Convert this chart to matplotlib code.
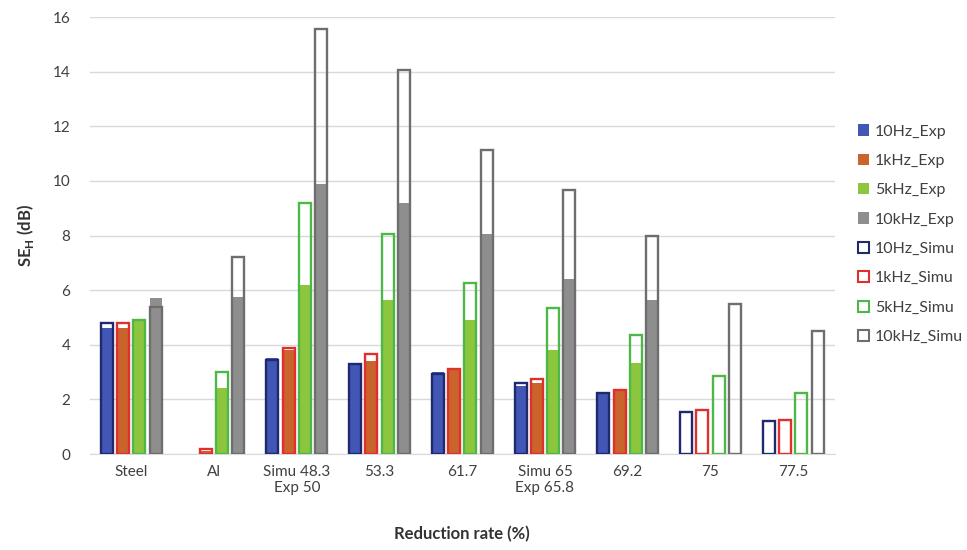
import matplotlib
matplotlib.use("Agg")
import matplotlib.pyplot as plt
import numpy as np
from matplotlib.patches import Patch

plt.rcParams['font.family'] = ['Lato', 'DejaVu Sans']

nan = float('nan')
categories = ["Steel", "Al", "Simu 48.3\nExp 50", "53.3", "61.7", "Simu 65\nExp 65.8", "69.2", "75", "77.5"]

exp_10hz  = [4.62, nan, 3.50, 3.25, 3.00, 2.50, 2.25, nan, nan]
exp_1khz  = [4.62, 0.12, 3.80, 3.40, 3.10, 2.60, 2.35, nan, nan]
exp_5khz  = [4.92, 2.40, 6.20, 5.65, 4.90, 3.80, 3.35, nan, nan]
exp_10khz = [5.70, 5.75, 9.90, 9.20, 8.05, 6.40, 5.65, nan, nan]

simu_10hz  = [4.78, nan, 3.45, 3.30, 2.92, 2.60, 2.22, 1.55, 1.20]
simu_1khz  = [4.78, 0.18, 3.90, 3.65, 3.10, 2.75, 2.33, 1.60, 1.25]
simu_5khz  = [4.90, 3.02, 9.20, 8.05, 6.25, 5.35, 4.35, 2.85, 2.25]
simu_10khz = [5.40, 7.22, 15.55, 14.05, 11.15, 9.65, 8.00, 5.50, 4.50]

exp_series = [exp_10hz, exp_1khz, exp_5khz, exp_10khz]
simu_series = [simu_10hz, simu_1khz, simu_5khz, simu_10khz]
exp_labels = ["10Hz_Exp", "1kHz_Exp", "5kHz_Exp", "10kHz_Exp"]
simu_labels = ["10Hz_Simu", "1kHz_Simu", "5kHz_Simu", "10kHz_Simu"]
exp_colors = ["#4256B6", "#C9642C", "#8CC63F", "#8E8E8E"]
simu_colors = ["#1F2A6E", "#E0302E", "#4DB848", "#6E6E6E"]

fig = plt.figure(figsize=(9.67, 5.5), dpi=100)
ax = fig.add_axes([0.093, 0.1745, 0.77, 0.7945])

x = np.arange(len(categories))
w = 0.145
offsets = [-0.295, -0.098, 0.098, 0.295]

for i in range(4):
    ax.bar(x + offsets[i], exp_series[i], width=w, color=exp_colors[i], zorder=2,
           linewidth=0)
    ax.bar(x + offsets[i], simu_series[i], width=w, facecolor='none',
           edgecolor=simu_colors[i], linewidth=1.7, zorder=3)

ax.set_ylim(0, 16)
ax.set_xlim(-0.5, len(categories) - 0.5)
ax.set_yticks(np.arange(0, 17, 2))
ax.yaxis.grid(True, color="#D9D9D9", linewidth=1)
ax.set_axisbelow(True)
for s in ["top", "right", "left"]:
    ax.spines[s].set_visible(False)
ax.spines["bottom"].set_color("#D9D9D9")
ax.tick_params(axis='y', length=0, labelsize=11, colors="#404040", pad=14)
ax.tick_params(axis='x', length=0, labelsize=11, colors="#404040", pad=8)
ax.set_xticks(x)
ax.set_xticklabels(categories)

ax.set_ylabel(r"SE$_\mathregular{H}$ (dB)", fontsize=12, fontweight='bold', color="#333333", labelpad=12)
ax.set_xlabel("Reduction rate (%)", fontsize=12, fontweight='bold', color="#333333", labelpad=22)

handles = [Patch(facecolor=c, edgecolor='none', label=l) for c, l in zip(exp_colors, exp_labels)]
handles += [Patch(facecolor='white', edgecolor=c, linewidth=1.5, label=l) for c, l in zip(simu_colors, simu_labels)]
leg = fig.legend(handles=handles, loc='upper left', bbox_to_anchor=(0.872, 0.80),
                 frameon=False, fontsize=11.5, handlelength=0.7, handleheight=0.7,
                 handletextpad=0.4, labelspacing=0.95, labelcolor="#404040")

fig.savefig("out.png", dpi=100)
